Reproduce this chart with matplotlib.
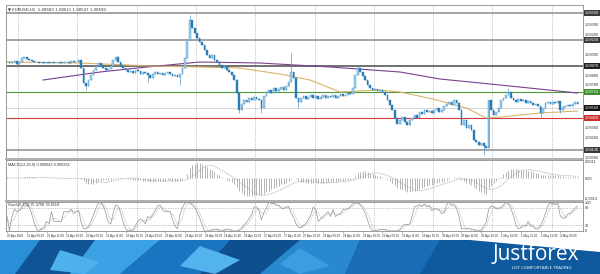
import matplotlib
matplotlib.use("Agg")
import matplotlib.pyplot as plt
import numpy as np
import pandas as pd
from matplotlib.patches import Polygon
from matplotlib.transforms import blended_transform_factory

# ---------------- data ----------------
header_text = "\u25bc EURUSD,H1  1.08583 1.08611 1.08547 1.08590"
macd_text = "MACD(12,26,9) 0.000042 0.000261"
stoch_text = "Stoch(5,3,3) 75.3798 78.8118"

first_open = 1.0901
closes = [
    1.0901, 1.0900, 1.0901, 1.0902, 1.0899,
    1.0901, 1.0905, 1.0906, 1.0904, 1.0903,
    1.0902, 1.0901, 1.0901, 1.0900, 1.0901, 1.0900, 1.0901, 1.0900, 1.0901, 1.0900,
    1.0900, 1.0901, 1.0900, 1.0901, 1.0901, 1.0900, 1.0902, 1.0901,
    1.0901, 1.0903, 1.0895, 1.0880,
    1.0877, 1.0883, 1.0888, 1.0893,
    1.0897, 1.0900, 1.0898, 1.0895, 1.0893, 1.0894, 1.0897,
    1.0903, 1.0906, 1.0901, 1.0897,
    1.0895, 1.0893, 1.0891, 1.0892, 1.0890, 1.0893, 1.0892, 1.0889, 1.0891, 1.0890, 1.0888,
    1.0885, 1.0889, 1.0891, 1.0889, 1.0890, 1.0888,
    1.0890, 1.0891, 1.0889, 1.0887, 1.0888, 1.0886, 1.0889,
    1.0895, 1.0905, 1.0923,
    1.0943, 1.0935, 1.0930,
    1.0925, 1.0921, 1.0918, 1.0913,
    1.0908, 1.0905, 1.0908, 1.0903, 1.0901,
    1.0898, 1.0895, 1.0897, 1.0893, 1.0891, 1.0888,
    1.0883, 1.0870, 1.0853,
    1.0859, 1.0863, 1.0861, 1.0865, 1.0863, 1.0866, 1.0864,
    1.0863, 1.0855, 1.0867,
    1.0871, 1.0873, 1.0870, 1.0875, 1.0872, 1.0874, 1.0876, 1.0873, 1.0877, 1.0881,
    1.0891, 1.0885,
    1.0865, 1.0861,
    1.0865, 1.0867, 1.0864, 1.0866, 1.0868, 1.0865, 1.0867, 1.0864, 1.0866, 1.0868,
    1.0865, 1.0867, 1.0866, 1.0868, 1.0865, 1.0867, 1.0869, 1.0867,
    1.0868, 1.0870, 1.0869, 1.0875,
    1.0888, 1.0895, 1.0891, 1.0887, 1.0883,
    1.0878, 1.0875, 1.0873, 1.0874, 1.0872, 1.0873, 1.0871,
    1.0868, 1.0863, 1.0858, 1.0853, 1.0845, 1.0839,
    1.0843, 1.0846, 1.0841, 1.0838, 1.0843, 1.0845,
    1.0848, 1.0845, 1.0851, 1.0849, 1.0853, 1.0851,
    1.0852, 1.0850, 1.0853, 1.0855, 1.0851, 1.0853,
    1.0857, 1.0859, 1.0861, 1.0858, 1.0863, 1.0860,
    1.0853, 1.0838, 1.0843, 1.0835, 1.0838, 1.0833,
    1.0823, 1.0821, 1.0818, 1.0820, 1.0817, 1.0815,
    1.0863, 1.0853,
    1.0848, 1.0851, 1.0855,
    1.0863, 1.0865, 1.0868, 1.0871, 1.0865,
    1.0863, 1.0861, 1.0864, 1.0862, 1.0863, 1.0860, 1.0862,
    1.0860, 1.0858, 1.0859, 1.0857, 1.0850, 1.0855,
    1.0860, 1.0861, 1.0859, 1.0861, 1.0860, 1.0862,
    1.0853, 1.0856, 1.0857,
    1.0858, 1.0857, 1.0859, 1.0861, 1.0859,
]
wick_highs = {74: 1.0948, 115: 1.0910, 142: 1.0897, 203: 1.0875}
wick_lows = {4: 1.0896, 32: 1.0873, 57: 1.0881, 70: 1.0878, 94: 1.0850,
             103: 1.0850, 118: 1.0855, 193: 1.0808, 216: 1.0846, 224: 1.0850}

ma_slow_idx = [14.6, 37.7, 56.7, 78.1, 102.4, 130.8, 159.1, 175.3, 199.6, 231]
ma_slow_val = [1.0883, 1.0891, 1.0896, 1.0901, 1.0900, 1.0896, 1.0891, 1.0884, 1.0878, 1.0870]
ma_fast_idx = [0, 29.5, 58, 78, 94, 110.5, 122.7, 134.8, 151, 159, 172.5, 186, 194, 200, 216, 231]
ma_fast_val = [1.0901, 1.0900, 1.0897, 1.0896, 1.0895, 1.0889, 1.0883, 1.0871, 1.0873, 1.0871,
               1.0864, 1.0855, 1.0845, 1.0846, 1.0850, 1.0852]

gray_levels = [1.0950, 1.0923, 1.0813]
dark_level = 1.0897
green_level = 1.0871
red_level = 1.0845
current_price = 1.0855

price_ticks = [1.0939, 1.0929, 1.0909, 1.0888, 1.0878, 1.0836, 1.0826, 1.0806]

date_positions = list(range(0, 232, 8))
date_labels = ["20 Apr 2020", "21 Apr 03:00", "21 Apr 11:00", "21 Apr 19:00", "22 Apr 03:00",
               "22 Apr 11:00", "22 Apr 19:00", "23 Apr 03:00", "23 Apr 11:00", "23 Apr 19:00",
               "24 Apr 03:00", "24 Apr 11:00", "24 Apr 19:00", "27 Apr 03:00", "27 Apr 11:00",
               "27 Apr 19:00", "28 Apr 03:00", "28 Apr 11:00", "28 Apr 19:00", "29 Apr 03:00",
               "29 Apr 11:00", "29 Apr 19:00", "30 Apr 03:00", "30 Apr 11:00", "30 Apr 19:00",
               "1 May 03:00", "1 May 11:00", "1 May 19:00", "4 May 03:00"]
day_separators = [4.5, 28.5, 52.5, 76.5, 100.5, 124.5, 148.5, 172.5, 196.5, 220.5]

# ---------------- derived OHLC / indicators ----------------
c = np.array(closes)
n = len(c)
o = np.concatenate([[first_open], c[:-1]])
hi = np.maximum(o, c)
lo = np.minimum(o, c)
for k, v in wick_highs.items():
    hi[k] = max(hi[k], v)
for k, v in wick_lows.items():
    lo[k] = min(lo[k], v)
idx = np.arange(n)


def ema(x, span):
    a = 2.0 / (span + 1)
    out = np.empty_like(x)
    out[0] = x[0]
    for j in range(1, len(x)):
        out[j] = a * x[j] + (1 - a) * out[j - 1]
    return out


macd = ema(c, 12) - ema(c, 26)
signal = pd.Series(macd).rolling(9, min_periods=1).mean().values

hh = pd.Series(hi).rolling(5, min_periods=1).max()
ll = pd.Series(lo).rolling(5, min_periods=1).min()
num = (pd.Series(c) - ll).rolling(3, min_periods=1).sum()
den = (hh - ll).rolling(3, min_periods=1).sum()
stoch_k = np.where(den > 0, 100 * num / den.replace(0, np.nan), 50.0)
stoch_k = np.nan_to_num(stoch_k, nan=50.0)
stoch_d = pd.Series(stoch_k).rolling(3, min_periods=1).mean().values

# ---------------- figure ----------------
W, H = 600, 274
fig = plt.figure(figsize=(6.0, 2.74), dpi=100)
fig.patch.set_facecolor("white")
FS = 2.8
TXT = "#333333"
GRID = "#9a9a9a"
SMALL = ["Liberation Sans", "DejaVu Sans"]


def px_axes(x0, y0, x1, y1):
    return fig.add_axes([x0 / W, 1 - y1 / H, (x1 - x0) / W, (y1 - y0) / H])


XL, XR = 6, 583
ax = px_axes(XL, 5, XR, 158)
axm = px_axes(XL, 160, XR, 200)
axs = px_axes(XL, 202, XR, 231)

xlim = (-0.4, 233.2)
for a in (ax, axm, axs):
    a.set_xlim(*xlim)
    a.set_facecolor("white")
    for sp in a.spines.values():
        sp.set_color("#8a8a8a")
        sp.set_linewidth(0.6)
    for xs in day_separators:
        a.axvline(xs, color=GRID, lw=0.5, ls=(0, (1, 1.5)), zorder=0)
    a.tick_params(axis="both", length=0, labelsize=FS, colors=TXT, pad=1)
    a.yaxis.tick_right()

# separators between panels
for yy in (158.8, 200.8):
    fig.add_artist(plt.Line2D([XL / W, XR / W], [1 - yy / H, 1 - yy / H],
                              color="#b0b0b0", lw=1.4, transform=fig.transFigure))

# ---- main price panel ----
ax.set_ylim(1.0805, 1.0958)
rtrans = blended_transform_factory(ax.transAxes, ax.transData)

for lv in gray_levels:
    ax.axhline(lv, color="#8c8c8c", lw=1.1, zorder=1)
ax.axhline(dark_level, color="#4a4a4a", lw=1.1, zorder=1)
ax.axhline(green_level, color="#4e9a3a", lw=0.8, zorder=1)
ax.axhline(red_level, color="#d13a3a", lw=0.8, zorder=1)
ax.axhline(current_price, color="#d0d0d0", lw=0.6, zorder=1)

ax.plot(ma_slow_idx, ma_slow_val, color="#7b3f8f", lw=0.8, zorder=2)
ax.plot(ma_fast_idx, ma_fast_val, color="#d9b46a", lw=0.8, zorder=2)

up = c >= o
ax.vlines(idx, lo, hi, color="#4d8fbf", lw=0.45, zorder=3)
body_h = np.where(np.abs(c - o) < 0.00004, 0.00004, c - o)
ax.bar(idx[up], body_h[up], bottom=o[up], width=0.68, color="#a9d2ee",
       edgecolor="#3c8cc4", linewidth=0.3, zorder=4)
ax.bar(idx[~up], body_h[~up], bottom=o[~up], width=0.68, color="#2a7cb8",
       edgecolor="#2a7cb8", linewidth=0.3, zorder=4)

ax.set_yticks(price_ticks)
ax.set_yticklabels([f"{t:.5f}" for t in price_ticks], family=SMALL)
ax.set_xticks([])

box_specs = [(gray_levels[0], "#3a3a3a"), (gray_levels[1], "#3a3a3a"), (dark_level, "#222222"),
             (green_level, "#3f8f2e"), (current_price, "#111111"), (red_level, "#cc2f2f"),
             (gray_levels[2], "#3a3a3a")]
for lv, col in box_specs:
    ax.text(1.003, lv, f"{lv:.5f}", transform=rtrans, fontsize=FS, color="white",
            va="center", ha="left", family=SMALL,
            bbox=dict(boxstyle="square,pad=0.2", fc=col, ec="none"), clip_on=False)

ax.text(0.004, 0.985, header_text, transform=ax.transAxes, fontsize=FS, color=TXT,
        va="top", ha="left", family=["DejaVu Sans"])

# ---- MACD panel ----
pos_peak = np.max(macd)
s = pos_peak / 15.0
axm.set_ylim(-22 * s, 18 * s)
axm.vlines(idx, 0, macd, color="#a0a0a0", lw=0.55, zorder=2)
axm.plot(idx, signal, color="#a8a8a8", lw=0.6, ls=(0, (1.2, 1.0)), zorder=3)
axm.set_xticks([])
mt = [16.5 * s, 0, -20.5 * s]
axm.set_yticks(mt)
axm.set_yticklabels([f"{mt[0]:.4f}", "0.00", f"{mt[2]:.4f}"], family=SMALL)
axm.text(0.004, 0.93, macd_text, transform=axm.transAxes, fontsize=FS, color=TXT,
         va="top", ha="left", family=SMALL)

# ---- Stochastic panel ----
axs.set_ylim(0, 100)
for lvl in (20, 80):
    axs.axhline(lvl, color="#9a9a9a", lw=0.5, ls=(0, (1, 1.5)), zorder=1)
axs.plot(idx, stoch_k, color="#9c9c9c", lw=0.55, zorder=3)
axs.plot(idx, stoch_d, color="#b5b5b5", lw=0.55, ls=(0, (1.2, 1.0)), zorder=2)
axs.set_yticks([100, 80, 20, 0])
axs.set_yticklabels(["100", "80", "20", "0"], family=SMALL)
axs.set_xticks(date_positions)
axs.set_xticklabels(date_labels, ha="left", family=SMALL)
axs.tick_params(axis="x", length=1.5, width=0.4, color="#777777", pad=0.8, labelsize=2.2)
axs.text(0.004, 0.97, stoch_text, transform=axs.transAxes, fontsize=FS, color=TXT,
         va="top", ha="left", family=SMALL)

# ---------------- banner ----------------
bx = fig.add_axes([0, 0, 1, 34 / H])
bx.set_xlim(0, 600)
bx.set_ylim(34, 0)
bx.axis("off")
bx.add_patch(Polygon([[0, 0], [600, 0], [600, 34], [0, 34]], closed=True, fc="#1766ad", ec="none"))
shapes = [
    ([[0, 0], [40, 0], [15, 34], [0, 34]], "#2b8fd8"),
    ([[40, 0], [95, 0], [70, 34], [15, 34]], "#0f5596"),
    ([[95, 0], [160, 0], [120, 34], [70, 34]], "#3aa2e4"),
    ([[160, 0], [230, 0], [200, 34], [120, 34]], "#1b74bf"),
    ([[230, 0], [300, 0], [260, 34], [200, 34]], "#0e4f8e"),
    ([[300, 0], [360, 0], [345, 34], [260, 34]], "#2a88cf"),
    ([[360, 0], [440, 0], [420, 34], [345, 34]], "#1a6db4"),
    ([[60, 10], [100, 22], [85, 34], [50, 30]], "#4fb0ee"),
    ([[200, 6], [240, 20], [215, 34], [180, 26]], "#53b3ee"),
    ([[300, 8], [330, 26], [300, 34], [280, 24]], "#3c9ee0"),
    ([[440, 0], [600, 0], [600, 34], [420, 34]], "#0f5a9e"),
    ([[470, 0], [600, 0], [600, 12]], "#ffffff"),
]
for pts, col in shapes:
    bx.add_patch(Polygon(pts, closed=True, fc=col, ec="none"))
bx.text(536, 15, "Justforex", fontsize=15, color="white", ha="center", va="center",
        family=["Open Sans", "DejaVu Sans"])
bx.text(542, 27.5, "JUST COMFORTABLE TRADING", fontsize=3.2, color="white",
        ha="center", va="center", family=["Open Sans", "DejaVu Sans"])

fig.savefig("out.png", dpi=100, facecolor="white")
